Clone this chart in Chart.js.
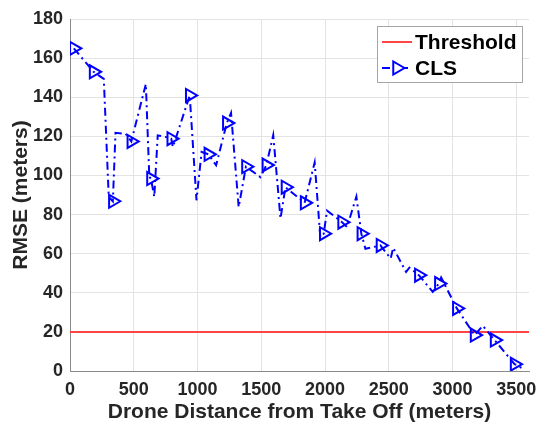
<!DOCTYPE html>
<html>
<head>
<meta charset="utf-8">
<title>RMSE vs distancia</title>
<script src="https://cdn.jsdelivr.net/npm/chart.js@4/dist/chart.umd.min.js"></script>
<style>
  html, body { margin: 0; padding: 0; background: #fff; }
</style>
</head>
<body>
<canvas id="myChart" width="540" height="429"></canvas>
<script>
// Datos: distancia del dron (m) y RMSE (m)
const distance = [30, 185, 265, 304, 336, 357, 437, 481, 595, 622, 635, 661, 688, 754, 794, 807,
  939, 992, 1032, 1085, 1146, 1230, 1263, 1323, 1380, 1494, 1540, 1594, 1651, 1690, 1840, 1919,
  1963, 1990, 2016, 2134, 2173, 2246, 2285, 2317, 2435, 2515, 2535, 2636, 2662, 2736, 2845, 2893,
  2911, 3034, 3173, 3238, 3330, 3487, 3565];
const rmse = [165, 153, 149.4, 89, 86.8, 121.8, 121.3, 117.4, 146.8, 99.2, 98.4, 89, 120.5, 119.6, 118.8, 114.5,
  140.9, 87.3, 112, 110.8, 105.2, 126.8, 132, 83.8, 104.5, 99.1, 105.3, 120.6, 78, 94, 86, 106.6,
  68.5, 70.2, 82, 76.1, 73.6, 89.2, 70.2, 62.5, 64.2, 57.5, 63, 50.7, 52.9, 49, 40.5, 44.7,
  47.8, 32, 18.4, 23.1, 15.8, 3.5, 0.8];
// indices de los puntos que llevan marcador (triangulo)
const markerIdx = [0, 1, 4, 7, 10, 14, 16, 19, 21, 24, 26, 29, 30, 33, 35, 38, 40, 45, 47, 49, 50, 52, 53];

// Linea de umbral
const thresholdX = [0, 3600];
const thresholdY = [20, 20];

// Ticks de los ejes
const xTicks = [0, 500, 1000, 1500, 2000, 2500, 3000, 3500];
const yTicks = [0, 20, 40, 60, 80, 100, 120, 140, 160, 180];

const labels = ['Threshold', 'CLS'];
const blue = '#0000ff';
const red = '#ff4545';
const txt = '#262626';
const fam = '"Liberation Sans", Arial, Helvetica, sans-serif';

const clsPoints = distance.map((d, i) => ({ x: d, y: rmse[i] }));
const thrPoints = thresholdX.map((d, i) => ({ x: d, y: thresholdY[i] }));

/*Leyenda dibujada a mano, estilo MATLAB*/
const legendBox = {
  id: 'legendBox',
  afterDraw(chart) {
    const { ctx, chartArea } = chart;
    const w = 145, h = 56;
    const x0 = chartArea.right - 152;
    const y0 = chartArea.top + 7;
    ctx.save();
    ctx.fillStyle = '#fff';
    ctx.fillRect(x0, y0, w, h);
    ctx.strokeStyle = '#a6a6a6';
    ctx.lineWidth = 1;
    ctx.strokeRect(x0 + 0.5, y0 + 0.5, w, h);

    const row1 = y0 + 16, row2 = y0 + 42;
    // Threshold
    ctx.strokeStyle = red;
    ctx.lineWidth = 2;
    ctx.beginPath();
    ctx.moveTo(x0 + 5, row1);
    ctx.lineTo(x0 + 35, row1);
    ctx.stroke();
    // CLS
    ctx.strokeStyle = blue;
    ctx.setLineDash([8, 4, 2, 4]);
    ctx.beginPath();
    ctx.moveTo(x0 + 5, row2);
    ctx.lineTo(x0 + 35, row2);
    ctx.stroke();
    ctx.setLineDash([]);
    const cx = x0 + 20, r = 7.5;
    ctx.fillStyle = '#fff';
    ctx.beginPath();
    ctx.moveTo(cx + r, row2);
    ctx.lineTo(cx - r / 2, row2 - r * 0.866);
    ctx.lineTo(cx - r / 2, row2 + r * 0.866);
    ctx.closePath();
    ctx.fill();
    ctx.stroke();

    ctx.fillStyle = '#000';
    ctx.font = 'bold 21px ' + fam;
    ctx.textBaseline = 'middle';
    ctx.textAlign = 'left';
    ctx.fillText(labels[0], x0 + 38, row1 + 1);
    ctx.fillText(labels[1], x0 + 38, row2 + 1);
    ctx.restore();
  }
};

const ctx = document.getElementById('myChart');

new Chart(ctx, {
  type: 'line',
  data: {
    datasets: [{
      label: labels[1],
      data: clsPoints,
      borderColor: blue,
      borderWidth: 2,
      borderDash: [8, 4, 2, 4],
      fill: false,
      tension: 0,
      pointStyle: 'triangle',
      pointRotation: 90,
      pointRadius: c => markerIdx.includes(c.dataIndex) ? 7.5 : 0,
      pointBorderWidth: 2,
      pointBorderColor: blue,
      pointBackgroundColor: 'rgba(0,0,0,0)',
      order: 0
    }, {
      label: labels[0],
      data: thrPoints,
      borderColor: red,
      borderWidth: 2,
      pointRadius: 0,
      fill: false,
      order: 1
    }]
  },
  options: {
    responsive: false,
    animation: false,
    layout: { padding: { top: 19, right: 11, left: 0, bottom: 0 } },
    plugins: {
      legend: { display: false },
      tooltip: { enabled: false }
    },
    scales: {
      x: {
        type: 'linear',
        min: 0,
        max: 3600,
        afterBuildTicks: axis => { axis.ticks = xTicks.map(v => ({ value: v })); },
        afterFit: axis => {
          axis.height = 58;
          axis.paddingRight = 0; // que no encoja el area por la etiqueta 3500
        },
        grid: { color: '#e3e3e3', drawTicks: false },
        border: { color: '#8a8a8a', width: 1 },
        ticks: {
          color: txt,
          padding: 8,
          font: { family: fam, size: 18, weight: 'bold' },
          callback: v => String(v)
        },
        title: {
          display: true,
          text: 'Drone Distance from Take Off (meters)',
          color: txt,
          font: { family: fam, size: 21, weight: 'bold' },
          padding: { top: 0, bottom: 4 }
        }
      },
      y: {
        min: 0,
        max: 180,
        afterBuildTicks: axis => { axis.ticks = yTicks.map(v => ({ value: v })); },
        afterFit: axis => { axis.width = 70; },
        grid: { color: '#e3e3e3', drawTicks: false },
        border: { color: '#8a8a8a', width: 1 },
        ticks: { color: txt, padding: 7, font: { family: fam, size: 18, weight: 'bold' } },
        title: {
          display: true,
          text: 'RMSE (meters)',
          color: txt,
          font: { family: fam, size: 21, weight: 'bold' },
          padding: { top: 9, bottom: 0 }
        }
      }
    }
  },
  plugins: [legendBox]
});
</script>
</body>
</html>
